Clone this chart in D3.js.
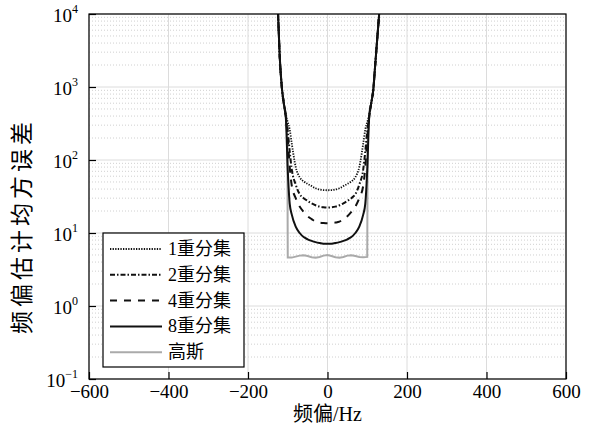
<!DOCTYPE html>
<html>
<head>
<meta charset="utf-8">
<script src="https://cdn.jsdelivr.net/npm/d3@7"></script>
<style>
body { margin: 0; background: #fff; }
svg { display: block; }
</style>
</head>
<body>
<svg id="chart" width="589" height="430"></svg>
<script>
// frequency offset grid shared by the diversity curves (Hz)
const freqHz = [-130,-125,-120,-115,-110,-105,-100,-95,-90,-80,-70,-60,-50,-40,-30,-20,-10,0,
	10,20,30,40,50,60,70,80,90,95,100,105,110,115,120,125,130,135]

const div1 = [40000,12000,2500,1000,600,420,330,260,170,80,58,51,47,44,41,39.5,38.7,38.5,
	38.7,39.5,41,44,47,51,58,80,170,260,330,420,600,900,2000,4500,10000,22000]
const div2 = [40000,12000,2500,1000,600,400,250,130,75,46,34,30,27.5,25.5,24,23,22.5,22.3,
	22.5,23,24,25.5,27.5,30,34,46,75,130,250,400,600,900,2000,4500,10000,22000]
const div4 = [40000,12000,2500,1000,600,400,200,80,45,30,23,19.5,17,15.5,14.3,13.9,13.7,13.6,
	13.7,13.9,14.3,15.5,17,19.5,23,30,45,80,200,400,600,900,2000,4500,10000,22000]
const div8 = [40000,12000,2500,1000,600,400,73,25,18,12.2,10,8.8,8.2,7.8,7.5,7.3,7.15,7.1,
	7.15,7.3,7.5,7.8,8.2,8.8,10,12.2,18,25,73,400,600,900,2000,4500,10000,22000]

// gaussian reference curve has its own grid (vertical walls at +-100 Hz)
const gaussHz = [-130,-125,-120,-115,-110,-105,-101,-100,-90,-80,-70,-60,-50,-40,-30,-20,-10,0,
	10,20,30,40,50,60,70,80,90,100,101,105,110,115,120,125,130,135]
const gaussVal = [40000,12000,2500,1000,600,400,200,4.6,4.6,4.75,4.9,4.95,4.85,4.65,4.6,4.7,4.9,5.0,
	4.85,4.65,4.6,4.7,4.9,4.95,4.85,4.7,4.65,4.7,200,400,600,900,2000,4500,10000,22000]

const legendNames = ['1重分集', '2重分集', '4重分集', '8重分集', '高斯']
const xTicks = [-600, -400, -200, 0, 200, 400, 600]
const yTicks = [0.1, 1, 10, 100, 1000, 10000]
const yExp = ['\u22121', '0', '1', '2', '3', '4']

const plotL = 89, plotR = 566, plotT = 14, plotB = 379
const serif = "'Liberation Serif', 'Noto Sans CJK SC', serif"

let svg = d3.select('#chart')

let x = d3.scaleLinear().domain([-600, 600]).range([plotL, plotR])
let y = d3.scaleLog().domain([0.1, 10000]).range([plotB, plotT])

// grid
let grid = svg.append('g')

let minors = []
for (let e = -1; e < 4; e++) {
	for (let m = 2; m < 10; m++) minors.push(m * Math.pow(10, e))
}

grid.selectAll('.minor')
	.data(minors)
	.enter()
	.append('line')
	.attr('x1', plotL).attr('x2', plotR)
	.attr('y1', d => y(d)).attr('y2', d => y(d))
	.attr('stroke', '#d0d0d0')
	.attr('stroke-width', 1)
	.attr('stroke-dasharray', '1,2')

grid.selectAll('.major')
	.data(yTicks)
	.enter()
	.append('line')
	.attr('x1', plotL).attr('x2', plotR)
	.attr('y1', d => y(d)).attr('y2', d => y(d))
	.attr('stroke', '#dcdcdc')
	.attr('stroke-width', 1)

grid.selectAll('.vgrid')
	.data(xTicks)
	.enter()
	.append('line')
	.attr('x1', d => x(d)).attr('x2', d => x(d))
	.attr('y1', plotT).attr('y2', plotB)
	.attr('stroke', '#dcdcdc')
	.attr('stroke-width', 1)

// curves
svg.append('clipPath').attr('id', 'plotClip')
	.append('rect')
	.attr('x', plotL).attr('y', plotT)
	.attr('width', plotR - plotL).attr('height', plotB - plotT)

let curves = svg.append('g').attr('clip-path', 'url(#plotClip)')

let styles = [
	{ color: '#111', width: 1.8, dash: '1.3,1.3' },
	{ color: '#111', width: 2, dash: '5,2,1.5,2' },
	{ color: '#111', width: 2, dash: '7,7' },
	{ color: '#111', width: 2, dash: null },
	{ color: '#aaa', width: 2, dash: null }
]

let gaussLine = d3.line()
	.x(d => x(d[0]))
	.y(d => y(d[1]))

curves.append('path')
	.datum(gaussHz.map((f, i) => [f, gaussVal[i]]))
	.attr('d', gaussLine)
	.attr('fill', 'none')
	.attr('stroke', styles[4].color)
	.attr('stroke-width', styles[4].width)

let uLine = d3.line()
	.x(d => x(d[0]))
	.y(d => y(d[1]))
	.curve(d3.curveMonotoneX)

;[div1, div2, div4, div8].forEach(function(vals, i) {
	curves.append('path')
		.datum(freqHz.map((f, j) => [f, vals[j]]))
		.attr('d', uLine)
		.attr('fill', 'none')
		.attr('stroke', styles[i].color)
		.attr('stroke-width', styles[i].width)
		.attr('stroke-dasharray', styles[i].dash)
})

// frame
svg.append('rect')
	.attr('x', plotL).attr('y', plotT)
	.attr('width', plotR - plotL).attr('height', plotB - plotT)
	.attr('fill', 'none')
	.attr('stroke', '#000')
	.attr('stroke-width', 1.2)

// x axis
let xAxis = svg.append('g')
	.attr('transform', 'translate(0,' + plotB + ')')
	.call(d3.axisBottom(x).tickValues(xTicks).tickSizeInner(-7).tickSizeOuter(0).tickPadding(6))

xAxis.select('.domain').remove()
xAxis.selectAll('.tick line').attr('stroke', '#000').attr('stroke-width', 1.2)
xAxis.selectAll('.tick text')
	.attr('font-family', serif)
	.attr('font-size', 19)
	.attr('fill', '#000')

// y axis
let yAxis = svg.append('g')
	.attr('transform', 'translate(' + plotL + ',0)')
	.call(d3.axisLeft(y).tickValues(yTicks).tickSizeInner(-7).tickSizeOuter(0).tickFormat(() => ''))

yAxis.select('.domain').remove()
yAxis.selectAll('.tick line').attr('stroke', '#000').attr('stroke-width', 1.2)
yAxis.selectAll('.tick text').remove()

yAxis.selectAll('.tick').each(function(d, i) {
	let t = d3.select(this).append('text')
		.attr('x', -11)
		.attr('y', 7)
		.attr('text-anchor', 'end')
		.attr('font-family', serif)
		.attr('fill', '#000')
	t.append('tspan').attr('font-size', 19).text('10')
	t.append('tspan').attr('font-size', 12).attr('dy', -9).text(yExp[i])
})

// axis titles
svg.append('text')
	.attr('x', (plotL + plotR) / 2)
	.attr('y', 421)
	.attr('text-anchor', 'middle')
	.attr('font-family', serif)
	.attr('font-size', 20)
	.text('频偏/Hz')

svg.append('text')
	.attr('transform', 'translate(30,226) rotate(-90)')
	.attr('text-anchor', 'middle')
	.attr('font-family', serif)
	.attr('font-size', 23)
	.attr('letter-spacing', 4)
	.text('频偏估计均方误差')

// legend
let legend = svg.append('g')

legend.append('rect')
	.attr('x', 103).attr('y', 233)
	.attr('width', 141).attr('height', 134)
	.attr('fill', '#fff')
	.attr('stroke', '#000')
	.attr('stroke-width', 1.2)

let rows = legend.selectAll('.row')
	.data(legendNames)
	.enter()
	.append('g')
	.attr('transform', (d, i) => 'translate(0,' + (249 + i * 25.8) + ')')

rows.append('line')
	.attr('x1', 110).attr('x2', 162)
	.attr('y1', 0).attr('y2', 0)
	.attr('stroke', (d, i) => styles[i].color)
	.attr('stroke-width', (d, i) => styles[i].width)
	.attr('stroke-dasharray', (d, i) => styles[i].dash)

rows.append('text')
	.attr('x', 168)
	.attr('y', 6)
	.attr('font-family', serif)
	.attr('font-size', 18)
	.attr('fill', '#000')
	.text(d => d)
</script>
</body>
</html>
